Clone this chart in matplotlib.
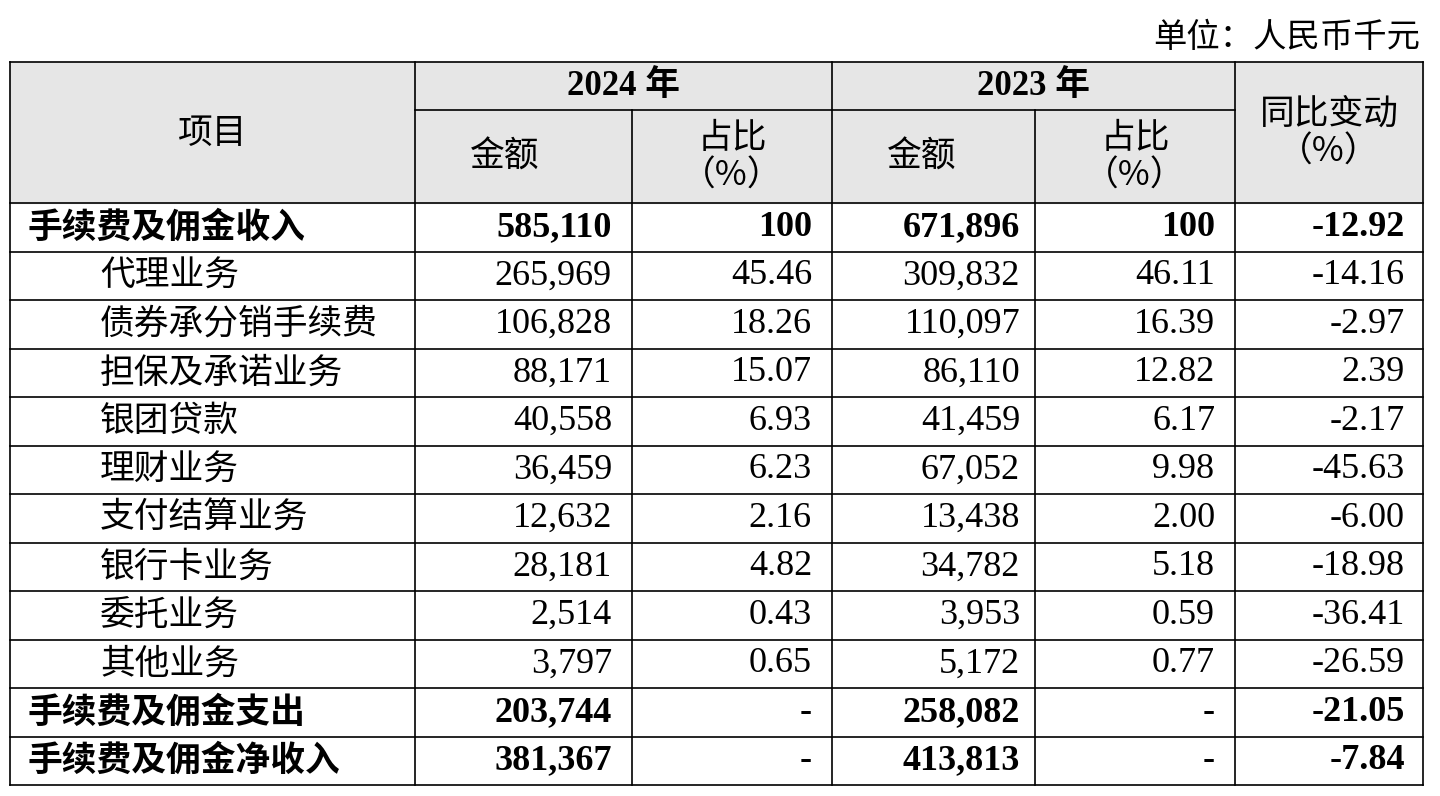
import matplotlib
matplotlib.use("Agg")
import matplotlib.pyplot as plt
from matplotlib.patches import Rectangle

items = ["手续费及佣金收入", "代理业务", "债券承分销手续费", "担保及承诺业务", "银团贷款", "理财业务",
         "支付结算业务", "银行卡业务", "委托业务", "其他业务", "手续费及佣金支出", "手续费及佣金净收入"]
amt2024 = ["585,110", "265,969", "106,828", "88,171", "40,558", "36,459", "12,632", "28,181", "2,514", "3,797", "203,744", "381,367"]
pct2024 = ["100", "45.46", "18.26", "15.07", "6.93", "6.23", "2.16", "4.82", "0.43", "0.65", "-", "-"]
amt2023 = ["671,896", "309,832", "110,097", "86,110", "41,459", "67,052", "13,438", "34,782", "3,953", "5,172", "258,082", "413,813"]
pct2023 = ["100", "46.11", "16.39", "12.82", "6.17", "9.98", "2.00", "5.18", "0.59", "0.77", "-", "-"]
yoy = ["-12.92", "-14.16", "-2.97", "2.39", "-2.17", "-45.63", "-6.00", "-18.98", "-36.41", "-26.59", "-21.05", "-7.84"]
bold_rows = {0, 10, 11}

CJK = ["Noto Sans CJK SC", "DejaVu Sans"]
NUM = ["Liberation Serif", "Noto Sans CJK SC"]

fig = plt.figure(figsize=(14.4, 7.96), dpi=100)
ax = fig.add_axes([0, 0, 1, 1])
ax.set_xlim(0, 1440); ax.set_ylim(796, 0); ax.axis("off")

cols = [10, 415, 632, 832, 1035, 1235, 1423]
top, h1, h2 = 62, 110, 203
bottom = 785
nrows = len(items)
rh = (bottom - h2) / nrows
rows = [h2 + i * rh for i in range(nrows + 1)]

ax.add_patch(Rectangle((cols[0], top), cols[-1] - cols[0], h2 - top, color="#e6e6e6", zorder=0))
lw = 1.2
for y in rows:
    ax.plot([cols[0], cols[-1]], [y, y], color="black", lw=lw)
ax.plot([cols[0], cols[-1]], [top, top], color="black", lw=lw)
ax.plot([cols[1], cols[5]], [h1, h1], color="black", lw=lw)
for i, x in enumerate(cols):
    if i in (2, 4):
        ax.plot([x, x], [h1, bottom], color="black", lw=lw)
    else:
        ax.plot([x, x], [top, bottom], color="black", lw=lw)

fs = 25
ax.text(1420, 38, "单位：人民币千元", ha="right", va="center", fontsize=24, family=CJK)
ax.text((cols[0] + cols[1]) / 2, 133, "项目", ha="center", va="center", fontsize=fs, family=CJK)
ax.text((cols[1] + cols[3]) / 2, 87, "2024 年", ha="center", va="center", fontsize=fs, family=NUM, weight="bold")
ax.text((cols[3] + cols[5]) / 2, 87, "2023 年", ha="center", va="center", fontsize=fs, family=NUM, weight="bold")
ax.text((cols[5] + cols[6]) / 2, 133, "同比变动\n（%）", ha="center", va="center", fontsize=fs, family=CJK, linespacing=1.1)
for c in (1, 3):
    ax.text(cols[c] + 55, 157, "金额", ha="left", va="center", fontsize=fs, family=CJK)
    ax.text((cols[c + 1] + cols[c + 2]) / 2, 157, "占比\n（%）", ha="center", va="center", fontsize=fs, family=CJK, linespacing=1.1)

for i in range(nrows):
    yc = (rows[i] + rows[i + 1]) / 2
    wt = "bold" if i in bold_rows else "normal"
    x0 = 28 if i in bold_rows else 100
    ax.text(x0, yc, items[i], ha="left", va="center", fontsize=fs, family=CJK, weight=wt)
    for val, xr in zip([amt2024[i], pct2024[i], amt2023[i], pct2023[i], yoy[i]], [612, 812, 1020, 1215, 1405]):
        ax.text(xr, yc, val, ha="right", va="center", fontsize=26, family=NUM, weight=wt)

fig.savefig("out.png", dpi=100)
